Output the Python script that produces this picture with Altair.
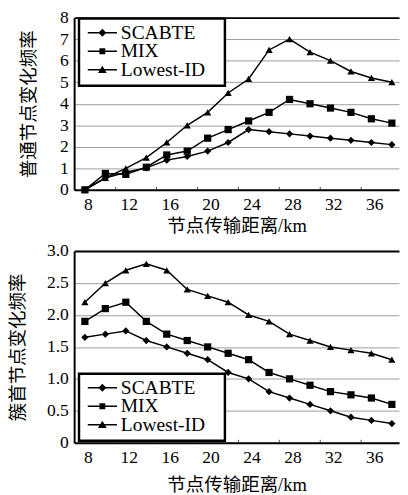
import altair as alt
import pandas as pd

# ---------------- data ----------------
x_vals = [8, 10, 12, 14, 16, 18, 20, 22, 24, 26, 28, 30, 32, 34, 36, 38]
series = ["SCABTE", "MIX", "Lowest-ID"]

top_scabte = [0, 0.55, 0.82, 1.02, 1.38, 1.55, 1.8, 2.2, 2.8, 2.7, 2.6, 2.5, 2.4, 2.3, 2.2, 2.1]
top_mix = [0, 0.76, 0.72, 1.05, 1.62, 1.8, 2.4, 2.8, 3.2, 3.6, 4.2, 4.0, 3.8, 3.6, 3.3, 3.1]
top_lowest = [0, 0.56, 1.0, 1.5, 2.2, 3.0, 3.6, 4.5, 5.15, 6.5, 7.0, 6.4, 6.0, 5.5, 5.2, 5.0]

bot_scabte = [1.65, 1.7, 1.75, 1.6, 1.5, 1.4, 1.3, 1.1, 1.0, 0.8, 0.7, 0.6, 0.5, 0.4, 0.35, 0.3]
bot_mix = [1.9, 2.1, 2.2, 1.9, 1.7, 1.6, 1.5, 1.4, 1.3, 1.1, 1.0, 0.9, 0.8, 0.75, 0.7, 0.6]
bot_lowest = [2.2, 2.5, 2.7, 2.8, 2.7, 2.4, 2.3, 2.2, 2.0, 1.9, 1.7, 1.6, 1.5, 1.45, 1.4, 1.3]

x_label_values = [8, 12, 16, 20, 24, 28, 32, 36]
x_tick_values = [11, 15, 19, 23, 27, 31, 35]
top_y_values = [0, 1, 2, 3, 4, 5, 6, 7, 8]
bot_y_values = [0, 0.5, 1.0, 1.5, 2.0, 2.5, 3.0]

x_title = "节点传输距离/km"
top_y_title = "普通节点变化频率"
bot_y_title = "簇首节点变化频率"

marker_shapes = ["diamond", "square", "triangle-up"]
# legend symbols: a short line with the marker in its middle (all filled)
legend_shapes = [
    "M-1,-0.05H1V0.05H-1ZM0,-0.27L0.27,0L0,0.27L-0.27,0Z",
    "M-1,-0.05H1V0.05H-1ZM-0.2,-0.2H0.2V0.2H-0.2Z",
    "M-1,-0.05H1V0.05H-1ZM0,-0.27L0.3,0.22H-0.3Z",
]

LATIN = "Liberation Serif"
MIXED = "Liberation Serif, Noto Sans CJK SC"
W = 334
NB = "\u00a0"


def long_df(a, b, c):
    rows = []
    for name, vals in zip(series, [a, b, c]):
        for xv, yv in zip(x_vals, vals):
            rows.append({"x": xv, "y": yv, "series": name})
    return pd.DataFrame(rows)


def panel(df, ymax, yvalues, height, ytitle, label_expr, ytitle_pad, xlabel_pad,
          xtitle_pad, legend_y):
    X = alt.X("x:Q",
              scale=alt.Scale(domain=[6.95, 38.7], nice=False, zero=False),
              axis=alt.Axis(values=x_label_values, title=x_title, grid=False,
                            ticks=False, labelPadding=xlabel_pad, labelOffset=3,
                            labelFontSize=18, labelFont=LATIN,
                            titleFont=MIXED, titleFontSize=19,
                            titleFontWeight="normal", titlePadding=xtitle_pad,
                            domainColor="black", domainWidth=2,
                            labelColor="black", titleColor="black"))
    Y = alt.Y("y:Q",
              scale=alt.Scale(domain=[0, ymax], nice=False),
              axis=alt.Axis(values=yvalues, title=ytitle, labelExpr=label_expr,
                            grid=True,
                            gridColor={"condition": {"test": f"datum.value >= {ymax}",
                                                     "value": "black"},
                                       "value": "#9a9a9a"},
                            gridWidth={"condition": {"test": f"datum.value >= {ymax}",
                                                     "value": 2},
                                       "value": 1},
                            ticks=False, labelPadding=6, labelFontSize=18,
                            labelFont=LATIN, titleFont=MIXED, titleFontSize=19,
                            titleFontWeight="normal", titlePadding=ytitle_pad,
                            domainColor="black", domainWidth=2,
                            labelColor="black", titleColor="black"))
    lines = alt.Chart(df).mark_line(color="black", strokeWidth=1.5).encode(
        x=X, y=Y, detail="series:N")
    pts = alt.Chart(df).mark_point(filled=True, color="black", size=55,
                                   opacity=1).encode(
        x=X, y=Y,
        shape=alt.Shape("series:N",
                        scale=alt.Scale(domain=series, range=marker_shapes),
                        legend=None))
    leg = alt.Chart(df).transform_filter("false").mark_point(
        filled=True, color="black", opacity=1).encode(
        x=X, y=Y,
        shape=alt.Shape("series:N",
                        scale=alt.Scale(domain=series, range=legend_shapes),
                        legend=alt.Legend(title=NB, titleOrient="right",
                                          titlePadding=14, titleFontSize=6,
                                          orient="none",
                                          legendX=5, legendY=legend_y,
                                          symbolSize=900,
                                          symbolFillColor="black",
                                          symbolOffset=2,
                                          clipHeight=17,
                                          labelFont=LATIN, labelFontSize=20,
                                          labelColor="black", labelOffset=3,
                                          strokeColor="black", fillColor="white",
                                          padding=6, rowPadding=-3)))
    ticks = alt.Chart(pd.DataFrame({"x": x_tick_values})).mark_rule(
        color="#444444", strokeWidth=1).encode(
        x=X, y=alt.value(height), y2=alt.value(height - 3))
    return alt.layer(lines, ticks, pts, leg).resolve_scale(
        shape="independent").properties(width=W, height=height)


top = panel(long_df(top_scabte, top_mix, top_lowest), 8, top_y_values, 177,
            top_y_title, "format(datum.value, 'd')", 22, 6, 4, 1)
bottom = panel(long_df(bot_scabte, bot_mix, bot_lowest), 3, bot_y_values, 197,
               bot_y_title,
               "datum.value == 0 ? '0' : format(datum.value, '.1f')", 20, 6, 10,
               126)

chart = alt.vconcat(top, bottom, spacing=5).properties(
    padding={"top": -7, "left": 0, "right": 0, "bottom": 0}
).configure_view(stroke="transparent").configure_legend(strokeWidth=2.5)

chart.save("out.html", embed_options={"renderer": "svg", "actions": False})
